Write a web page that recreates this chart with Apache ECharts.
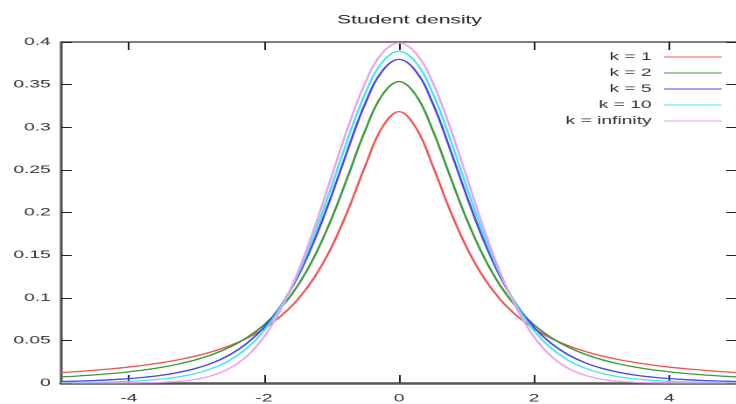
<!DOCTYPE html>
<html>
<head>
<meta charset="utf-8">
<script src="https://cdn.jsdelivr.net/npm/echarts@6/dist/echarts.min.js"></script>
<style>
  html, body { margin: 0; padding: 0; background: #fff; overflow: hidden; }
  /* the reference is a wide, squashed picture: draw narrow, stretch sideways */
  #chart { width: 421px; height: 404px; transform: scaleX(1.75); transform-origin: 0 0; }
</style>
</head>
<body>
<div id="chart"></div>
<script>
// x sample points, -5 .. 5 by 0.25
const xs = [-5, -4.75, -4.5, -4.25, -4, -3.75, -3.5, -3.25, -3, -2.75, -2.5, -2.25, -2, -1.75, -1.5, -1.25, -1, -0.75, -0.5, -0.25,
  0, 0.25, 0.5, 0.75, 1, 1.25, 1.5, 1.75, 2, 2.25, 2.5, 2.75, 3, 3.25, 3.5, 3.75, 4, 4.25, 4.5, 4.75, 5]

const k1 = [0.0122, 0.0135, 0.0150, 0.0167, 0.0187, 0.0211, 0.0240, 0.0275, 0.0318, 0.0372, 0.0439, 0.0525, 0.0637, 0.0784, 0.0979, 0.1242, 0.1592, 0.2037, 0.2546, 0.2996,
  0.3183, 0.2996, 0.2546, 0.2037, 0.1592, 0.1242, 0.0979, 0.0784, 0.0637, 0.0525, 0.0439, 0.0372, 0.0318, 0.0275, 0.0240, 0.0211, 0.0187, 0.0167, 0.0150, 0.0135, 0.0122]
const k2 = [0.0071, 0.0082, 0.0095, 0.0111, 0.0131, 0.0155, 0.0186, 0.0225, 0.0274, 0.0338, 0.0422, 0.0533, 0.0680, 0.0878, 0.1141, 0.1487, 0.1925, 0.2438, 0.2963, 0.3376,
  0.3536, 0.3376, 0.2963, 0.2438, 0.1925, 0.1487, 0.1141, 0.0878, 0.0680, 0.0533, 0.0422, 0.0338, 0.0274, 0.0225, 0.0186, 0.0155, 0.0131, 0.0111, 0.0095, 0.0082, 0.0071]
const k5 = [0.0018, 0.0023, 0.0029, 0.0039, 0.0051, 0.0069, 0.0092, 0.0126, 0.0173, 0.0239, 0.0333, 0.0466, 0.0651, 0.0905, 0.1245, 0.1679, 0.2197, 0.2757, 0.3279, 0.3657,
  0.3796, 0.3657, 0.3279, 0.2757, 0.2197, 0.1679, 0.1245, 0.0905, 0.0651, 0.0466, 0.0333, 0.0239, 0.0173, 0.0126, 0.0092, 0.0069, 0.0051, 0.0039, 0.0029, 0.0023, 0.0018]
const k10 = [0.0004, 0.0006, 0.0009, 0.0013, 0.0020, 0.0031, 0.0048, 0.0074, 0.0114, 0.0176, 0.0269, 0.0409, 0.0611, 0.0895, 0.1274, 0.1751, 0.2304, 0.2880, 0.3397, 0.3760,
  0.3891, 0.3760, 0.3397, 0.2880, 0.2304, 0.1751, 0.1274, 0.0895, 0.0611, 0.0409, 0.0269, 0.0176, 0.0114, 0.0074, 0.0048, 0.0031, 0.0020, 0.0013, 0.0009, 0.0006, 0.0004]
const kInf = [0.0000, 0.0000, 0.0000, 0.0001, 0.0001, 0.0004, 0.0009, 0.0020, 0.0044, 0.0091, 0.0175, 0.0317, 0.0540, 0.0863, 0.1295, 0.1826, 0.2420, 0.3011, 0.3521, 0.3867,
  0.3989, 0.3867, 0.3521, 0.3011, 0.2420, 0.1826, 0.1295, 0.0863, 0.0540, 0.0317, 0.0175, 0.0091, 0.0044, 0.0020, 0.0009, 0.0004, 0.0001, 0.0001, 0.0000, 0.0000, 0.0000]

const seriesNames = ['k = 1', 'k = 2', 'k = 5', 'k = 10', 'k = infinity']
const seriesData = [k1, k2, k5, k10, kInf]
const colors = ['#f25252', '#3a9a3a', '#4646ee', '#44e6e6', '#eaa2ea']
const xTicks = [-4, -2, 0, 2, 4]

const font = 'Liberation Sans, Arial, sans-serif'
const axisColor = '#555'

const chart = echarts.init(document.getElementById('chart'), null, { devicePixelRatio: 2 })
chart.setOption({
  animation: false,
  title: {
    text: 'Student density',
    left: 229,
    top: 9,
    textAlign: 'center',
    textStyle: { fontFamily: font, fontSize: 12, fontWeight: 'normal', color: '#222' }
  },
  legend: {
    data: seriesNames,
    orient: 'vertical',
    right: 8,
    top: 49,
    padding: 0,
    align: 'right',
    itemWidth: 33,
    itemHeight: 10,
    itemGap: 0,
    itemStyle: { opacity: 0 },
    lineStyle: { width: 1.2, opacity: 0.8 },
    textStyle: { fontFamily: font, fontSize: 11, color: '#333', lineHeight: 16, padding: [0, 2, 0, 0] }
  },
  grid: { left: 35, right: -3, top: 42, bottom: 21 },
  xAxis: [
    {
      type: 'value',
      min: -5,
      max: 5,
      axisLine: { onZero: false, lineStyle: { color: axisColor, width: 2.5 } },
      axisTick: { inside: true, length: 8, customValues: xTicks, lineStyle: { color: '#222', width: 1 } },
      axisLabel: { customValues: xTicks, fontFamily: font, fontSize: 11, color: '#333', margin: 10 },
      splitLine: { show: false }
    },
    {
      type: 'value',
      position: 'top',
      min: -5,
      max: 5,
      axisLine: { onZero: false, lineStyle: { color: axisColor, width: 1.5 } },
      axisTick: { inside: true, length: 8, customValues: xTicks, lineStyle: { color: '#222', width: 1 } },
      axisLabel: { show: false },
      splitLine: { show: false }
    }
  ],
  yAxis: [
    {
      type: 'value',
      min: 0,
      max: 0.4,
      interval: 0.05,
      axisLine: { show: true, onZero: false, lineStyle: { color: axisColor, width: 1.6 } },
      axisTick: { show: true, inside: true, length: 6, lineStyle: { color: '#222', width: 1 } },
      axisLabel: {
        fontFamily: font, fontSize: 11, color: '#333', margin: 6,
        formatter: v => String(Math.round(v * 100) / 100)
      },
      splitLine: { show: false }
    },
    {
      type: 'value',
      position: 'right',
      min: 0,
      max: 0.4,
      interval: 0.05,
      axisLine: { show: true, onZero: false, lineStyle: { color: axisColor, width: 1 } },
      axisTick: { show: true, inside: true, length: 6, lineStyle: { color: '#222', width: 1 } },
      axisLabel: { show: false },
      splitLine: { show: false }
    }
  ],
  series: seriesNames.map((name, i) => ({
    name: name,
    type: 'line',
    data: xs.map((x, j) => [x, seriesData[i][j]]),
    smooth: 0.4,
    symbol: 'none',
    lineStyle: { color: colors[i], width: 1.3 },
    itemStyle: { color: colors[i] },
    z: 2 + i
  }))
})
</script>
</body>
</html>
